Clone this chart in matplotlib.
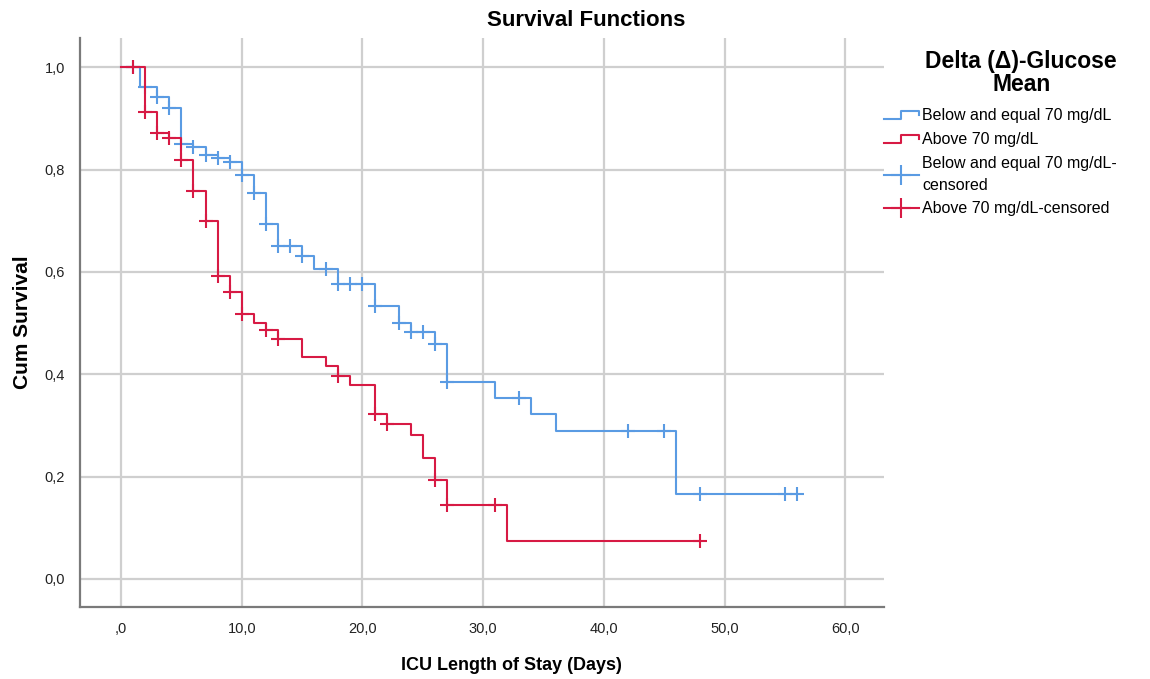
# Survival functions (Kaplan-Meier) by Delta-Glucose mean group
import numpy as np
import matplotlib
matplotlib.use("Agg")
import matplotlib.pyplot as plt
from matplotlib.lines import Line2D
from matplotlib.legend_handler import HandlerBase

# step data
blue_times = [0, 1.6, 3, 4, 5, 6, 7, 8, 9, 10, 11, 12, 13, 15, 16, 18, 21, 23, 24, 26, 27, 31, 34, 36, 46]
blue_surv = [1.0, 0.962, 0.942, 0.920, 0.850, 0.844, 0.828, 0.822, 0.815, 0.789, 0.755, 0.693, 0.651,
             0.631, 0.605, 0.577, 0.534, 0.501, 0.483, 0.460, 0.384, 0.354, 0.322, 0.289, 0.165]
blue_last = 56
blue_censored = [1, 2, 3, 4, 5, 6, 7, 8, 9, 10, 11, 12, 13, 14, 15, 17, 18, 19, 20, 21, 23, 24, 25, 26,
                 27, 33, 42, 45, 48, 55, 56]

red_times = [0, 2, 3, 4, 5, 6, 7, 8, 9, 10, 11, 12, 13, 15, 17, 18, 19, 21, 22, 24, 25, 26, 27, 32]
red_surv = [1.0, 0.913, 0.872, 0.861, 0.818, 0.758, 0.699, 0.592, 0.561, 0.517, 0.501, 0.486, 0.469,
            0.433, 0.416, 0.397, 0.378, 0.322, 0.303, 0.281, 0.237, 0.193, 0.145, 0.074]
red_last = 48
red_censored = [1, 2, 3, 4, 5, 6, 7, 8, 9, 10, 12, 13, 18, 21, 22, 26, 27, 31, 48]

x_ticks = [0, 10, 20, 30, 40, 50, 60]
x_labels = [",0", "10,0", "20,0", "30,0", "40,0", "50,0", "60,0"]
y_ticks = [0.0, 0.2, 0.4, 0.6, 0.8, 1.0]
y_labels = ["0,0", "0,2", "0,4", "0,6", "0,8", "1,0"]

labels = ["Below and equal 70 mg/dL", "Above 70 mg/dL",
          "Below and equal 70 mg/dL-\ncensored", "Above 70 mg/dL-censored"]

BLUE = "#5a9be3"
RED = "#d71a44"

plt.rcParams['font.family'] = ['Liberation Sans', 'DejaVu Sans']


class StepIcon(HandlerBase):
    def create_artists(self, legend, orig_handle, xdescent, ydescent, width, height, fontsize, trans):
        xs = np.array([0, 0.5, 0.5, 1.0, 1.0]) * width - xdescent
        ys = np.array([0.1, 0.1, 0.85, 0.85, 0.45]) * height - ydescent
        ln = Line2D(xs, ys, color=orig_handle.get_color(), lw=orig_handle.get_linewidth(), transform=trans)
        return [ln]


def censor_y(times, surv, cens):
    idx = np.searchsorted(times, cens, side='right') - 1
    return np.array(surv)[idx]


fig = plt.figure(figsize=(11.5, 6.79), dpi=100)
ax = fig.add_axes([0.0696, 0.106, 0.699, 0.838])

bl, = ax.step(np.append(blue_times, blue_last), np.append(blue_surv, blue_surv[-1]),
              where='post', color=BLUE, lw=1.5, zorder=3)
rl, = ax.step(np.append(red_times, red_last), np.append(red_surv, red_surv[-1]),
              where='post', color=RED, lw=1.5, zorder=4)
bc, = ax.plot(blue_censored, censor_y(blue_times, blue_surv, blue_censored), ls='none',
              marker='+', ms=9.5, mew=1.5, color=BLUE, zorder=3)
rc, = ax.plot(red_censored, censor_y(red_times, red_surv, red_censored), ls='none',
              marker='+', ms=9.5, mew=1.5, color=RED, zorder=4)

ax.set_xlim(-3.4, 63.2)
ax.set_ylim(-0.055, 1.057)
ax.set_xticks(x_ticks)
ax.set_xticklabels(x_labels)
ax.set_yticks(y_ticks)
ax.set_yticklabels(y_labels)
ax.tick_params(length=0, labelsize=10.5, colors='#222222')
ax.tick_params(axis='x', pad=11)
ax.tick_params(axis='y', pad=11)
ax.grid(True, color='#cfcfcf', lw=1.6, zorder=0)
ax.set_axisbelow(True)
for side in ['top', 'right']:
    ax.spines[side].set_visible(False)
for side in ['left', 'bottom']:
    ax.spines[side].set_color('#7a7a7a')
    ax.spines[side].set_linewidth(1.6)

fig.text(586 / 1150, 1 - 20 / 679, "Survival Functions", fontsize=16, fontweight='bold',
         ha='center', va='center')
ax.set_xlabel("ICU Length of Stay (Days)", fontsize=13, fontweight='bold')
ax.xaxis.set_label_coords(0.537, -0.088)
ax.set_ylabel("Cum Survival", fontsize=15, fontweight='bold')
ax.yaxis.set_label_coords(-0.06, 0.5)

leg_bl = Line2D([], [], color=BLUE, lw=1.5)
leg_rl = Line2D([], [], color=RED, lw=1.5)
leg_bc = Line2D([], [], color=BLUE, lw=1.5, marker='+', ms=14, mew=1.5)
leg_rc = Line2D([], [], color=RED, lw=1.5, marker='+', ms=14, mew=1.5)
leg = ax.legend([leg_bl, leg_rl, leg_bc, leg_rc], labels,
                handler_map={leg_bl: StepIcon(), leg_rl: StepIcon()},
                loc='upper left', bbox_to_anchor=(1.0, 0.979), frameon=False,
                borderaxespad=0, borderpad=0, handlelength=2.2, handletextpad=0.2,
                labelspacing=0.55, numpoints=1, fontsize=11.5, alignment='right',
                title="Delta (Δ)-Glucose\nMean",
                title_fontproperties={'weight': 'bold', 'size': 16.5})
leg.get_title().set_multialignment('center')
leg.get_title().set_linespacing(1.0)
leg.get_texts()[2].set_linespacing(1.55)
leg._legend_box.sep = 9

fig.savefig("out.png", dpi=100, facecolor='white')
